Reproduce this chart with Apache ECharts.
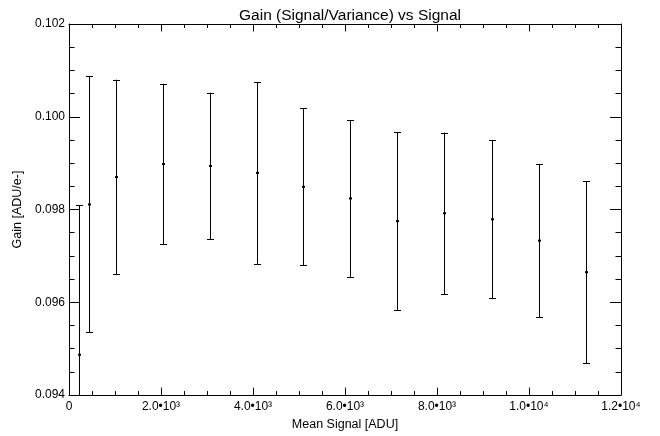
<!DOCTYPE html>
<html><head><meta charset="utf-8">
<script src="https://cdn.jsdelivr.net/npm/echarts@6/dist/echarts.min.js"></script>
<style>html,body{margin:0;padding:0;background:#fff}#c{width:660px;height:436px}</style>
</head><body><div id="c"></div>
<script>
var signal = [217, 435, 1015, 2050, 3065, 4080, 5080, 6100, 7123, 8152, 9189, 10217, 11246];
var gain   = [0.09487, 0.09811, 0.09870, 0.09898, 0.09894, 0.09879, 0.09849, 0.09824, 0.09775, 0.09792, 0.09779, 0.09733, 0.09665];
var gainErr= [0.00322, 0.00276, 0.00210, 0.00173, 0.00158, 0.00196, 0.00169, 0.00169, 0.00192, 0.00174, 0.00170, 0.00165, 0.00196];
var xTickLabels = {0:'0', 2000:'2.0•10³', 4000:'4.0•10³', 6000:'6.0•10³', 8000:'8.0•10³', 10000:'1.0•10⁴', 12000:'1.2•10⁴'};
var yTickLabels = {'0.094':'0.094','0.096':'0.096','0.098':'0.098','0.1':'0.100','0.102':'0.102'};

var font = 'Liberation Sans, Arial, Helvetica, sans-serif';
var chart = echarts.init(document.getElementById('c'), null, {renderer:'canvas'});
var data = signal.map(function(s,i){return [s, gain[i], gainErr[i]];});

function xAxisCfg(pos, show){
  return {type:'value', position:pos, min:0, max:12000, interval:2000,
    axisLine:{show:true, onZero:false, lineStyle:{color:'#000', width:1}},
    axisTick:{show:true, inside:true, length:7.5, lineStyle:{color:'#000'}},
    minorTick:{show:true, splitNumber:4, length:4, lineStyle:{color:'#000'}},
    splitLine:{show:false}, minorSplitLine:{show:false},
    axisLabel:{show:show, color:'#000', fontFamily:font, fontSize:12, margin:6,
      formatter:function(v){return xTickLabels[v]!==undefined?xTickLabels[v]:'';}},
    name: show?'Mean Signal [ADU]':'', nameLocation:'middle', nameGap:17,
    nameTextStyle:{color:'#000', fontFamily:font, fontSize:12.5}
  };
}
function yAxisCfg(pos, show){
  return {type:'value', position:pos, min:0.094, max:0.102, interval:0.002,
    axisLine:{show:true, onZero:false, lineStyle:{color:'#000', width:1}},
    axisTick:{show:true, inside:true, length:11, lineStyle:{color:'#000'}},
    minorTick:{show:true, splitNumber:4, length:5.5, lineStyle:{color:'#000'}},
    splitLine:{show:false}, minorSplitLine:{show:false},
    axisLabel:{show:show, color:'#000', fontFamily:font, fontSize:12, margin:4,
      formatter:function(v){var k=String(+v.toFixed(4));return yTickLabels[k]!==undefined?yTickLabels[k]:'';}},
    name: show?'Gain [ADU/e-]':'', nameLocation:'middle', nameGap:42, nameRotate:90,
    nameTextStyle:{color:'#000', fontFamily:font, fontSize:12.5}
  };
}

chart.setOption({
  animation:false,
  backgroundColor:'#fff',
  title:{text:'Gain (Signal/Variance) vs Signal', left:345, textAlign:'center', top:3,
    textStyle:{color:'#000', fontFamily:font, fontSize:15.5, fontWeight:'normal'}},
  grid:{left:69, right:39, top:24, bottom:34, containLabel:false},
  xAxis:[xAxisCfg('bottom', true), xAxisCfg('top', false)],
  yAxis:[yAxisCfg('left', true), yAxisCfg('right', false)],
  series:[{
    type:'custom', xAxisIndex:0, yAxisIndex:0, clip:true,
    data:data,
    renderItem:function(params, api){
      var x = api.value(0), y = api.value(1), e = api.value(2);
      var c = api.coord([x, y]);
      var hi = api.coord([x, y+e]);
      var lo = api.coord([x, y-e]);
      var cs = params.coordSys;
      var top = cs.y, bot = cs.y + cs.height;
      var y1 = Math.max(hi[1], top), y2 = Math.min(lo[1], bot);
      var px = Math.round(c[0]) + 0.5;
      var ch = [];
      ch.push({type:'line', shape:{x1:px, y1:y1, x2:px, y2:y2}, style:{stroke:'#000', lineWidth:1}});
      if (hi[1] >= top) ch.push({type:'line', shape:{x1:px-3.5, y1:Math.round(hi[1])+0.5, x2:px+3.5, y2:Math.round(hi[1])+0.5}, style:{stroke:'#000', lineWidth:1}});
      if (lo[1] <= bot) ch.push({type:'line', shape:{x1:px-3.5, y1:Math.round(lo[1])+0.5, x2:px+3.5, y2:Math.round(lo[1])+0.5}, style:{stroke:'#000', lineWidth:1}});
      ch.push({type:'rect', shape:{x:px-1.5, y:c[1]-1, width:3, height:2}, style:{fill:'#000'}});
      return {type:'group', children:ch};
    }
  }]
});
</script></body></html>
